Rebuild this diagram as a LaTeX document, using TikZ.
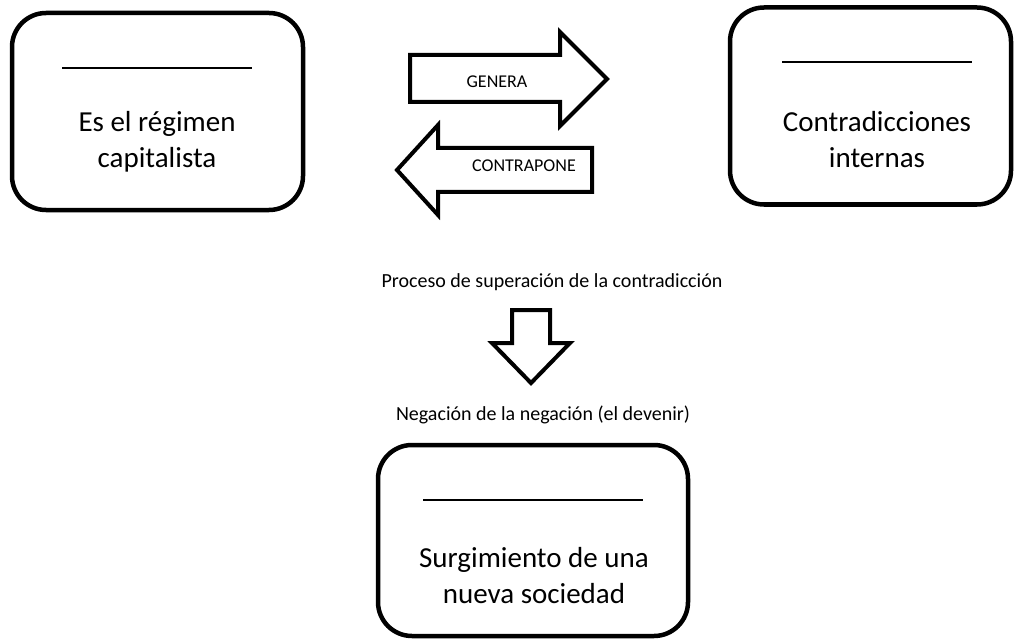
\documentclass[tikz,border=0pt]{standalone}
\usepackage{fontspec}
\setmainfont{Carlito}
\usetikzlibrary{positioning, calc}
\tikzstyle{Caja} = [
draw,
line width=4.5pt,
rounded corners=34pt,
inner sep=0pt]
\tikzstyle{Bloque} = [
draw,
line width=4pt,
fill=white,
line join=miter]
\tikzstyle{Raya} = [line width=1.3pt]
\tikzstyle{Grande} = [
font=\fontsize{29}{36}\selectfont,
align=center, inner sep=0pt, anchor=base]
\tikzstyle{Chica} = [
font=\fontsize{18}{22}\selectfont,
inner sep=0pt, anchor=base]
\tikzstyle{Media} = [
font=\fontsize{20}{24}\selectfont,
inner sep=0pt, anchor=base]

\begin{document}
\begin{tikzpicture}[x=1pt, y=-1pt]
    \useasboundingbox (0,0) rectangle (1014,639);

    \node[Caja, minimum width=291pt, minimum height=197pt] (1) at (157.5,111.5) {};
    \node[Caja, minimum width=281pt, minimum height=197pt] (2) at (870.5,106) {};
    \node[Caja, minimum width=310pt, minimum height=191pt] (3) at (533,540.5) {};

    \coordinate (1a) at (62,68);
    \coordinate (1b) at (252,68);
    \coordinate (2a) at (782,62);
    \coordinate (2b) at (972,62);
    \coordinate (3a) at (423,500);
    \coordinate (3b) at (643,500);
    \draw[Raya] (1a) -- (1b);
    \draw[Raya] (2a) -- (2b);
    \draw[Raya] (3a) -- (3b);

    \node[Grande] (4) at (157,168) {Es el régimen\\capitalista};
    \node[Grande] (5) at (877,168) {Contradicciones\\internas};
    \node[Grande] (6) at (534,603) {Surgimiento de una\\nueva sociedad};

    % flechas de bloque
    \draw[Bloque] (410,55) -- (560,55) -- (560,32) -- (607,79)
        -- (560,126) -- (560,102) -- (410,102) -- cycle;
    \draw[Bloque] (592,148) -- (438,148) -- (438,125) -- (397,170)
        -- (438,215) -- (438,192) -- (592,192) -- cycle;
    \draw[Bloque] (512,310) -- (550,310) -- (550,343) -- (570,343)
        -- (531,383) -- (492,343) -- (512,343) -- cycle;

    \node[Chica] (7) at (497,88) {GENERA};
    \node[Chica] (8) at (524,172) {CONTRAPONE};
    \node[Media] (9) at (552,287) {Proceso de superación de la contradicción};
    \node[Media] (10) at (543,420) {Negación de la negación (el devenir)};
\end{tikzpicture}
\end{document}
